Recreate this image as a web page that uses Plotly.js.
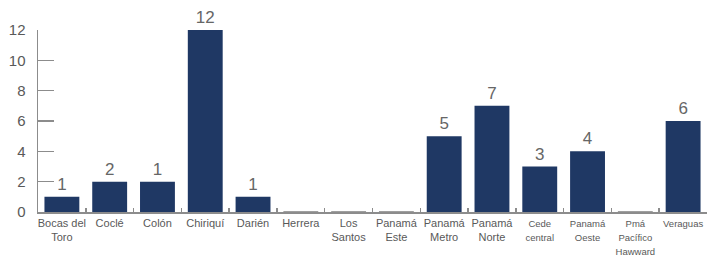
<!DOCTYPE html>
<html><head><meta charset="utf-8">
<script src="https://cdn.plot.ly/plotly-3.0.1.min.js"></script>
<style>body{margin:0;background:#fff}#c{width:711px;height:258px}</style>
</head><body><div id="c"></div>
<script>
const categories = ["Bocas del<br>Toro","Coclé","Colón","Chiriquí","Darién","Herrera","Los<br>Santos","Panamá<br>Este","Panamá<br>Metro","Panamá<br>Norte","Cede<br>central","Panamá<br>Oeste","Pmá<br>Pacífico<br>Hawward","Veraguas"];
const smallLabel = [false,false,false,false,false,false,false,false,false,false,true,true,true,true];
const values = [1,2,2,12,1,0,0,0,5,7,3,4,0,6];
const dataLabels = ["1","2","1","12","1","","","","5","7","3","4","","6"];
const yTicks = [0,2,4,6,8,10,12];

const FONT = '"Liberation Sans Narrow", "Arial Narrow", "Liberation Sans", Arial, sans-serif';
const xCats = categories.map((c, i) => smallLabel[i] ? '<span style="font-size:9.5px">' + c + '</span>' : c);

Plotly.newPlot('c', [{
  type: 'bar',
  x: xCats,
  y: values,
  text: dataLabels,
  textposition: 'outside',
  cliponaxis: false,
  textfont: {family: FONT, size: 17, color: '#666666'},
  marker: {color: '#1f3864', line: {color: values.map(v => v === 0 ? '#808080' : '#1f3864'), width: values.map(v => v === 0 ? 1.5 : 0)}},
  hoverinfo: 'none'
}], {
  width: 711, height: 258,
  margin: {l: 38, r: 4, t: 30, b: 46},
  paper_bgcolor: '#fff', plot_bgcolor: '#fff',
  bargap: 0.27,
  showlegend: false,
  font: {family: FONT, color: '#595959'},
  xaxis: {
    type: 'category',
    tickangle: 0,
    showline: true, linecolor: '#8c8c8c', linewidth: 1.5,
    ticks: 'inside', tickson: 'boundaries', ticklen: 4, tickcolor: '#8c8c8c', tickwidth: 1.5,
    showgrid: false, zeroline: false,
    tickfont: {family: FONT, size: 11, color: '#595959'},
    fixedrange: true
  },
  yaxis: {
    range: [0, 12],
    tickvals: yTicks,
    showline: true, linecolor: '#8c8c8c', linewidth: 1.5,
    ticks: 'inside', ticklen: 16, tickcolor: '#8c8c8c', tickwidth: 1.5,
    ticklabelstandoff: 8,
    showgrid: false, zeroline: false,
    tickfont: {family: FONT, size: 15, color: '#595959'},
    fixedrange: true
  }
}, {staticPlot: true});
</script></body></html>
